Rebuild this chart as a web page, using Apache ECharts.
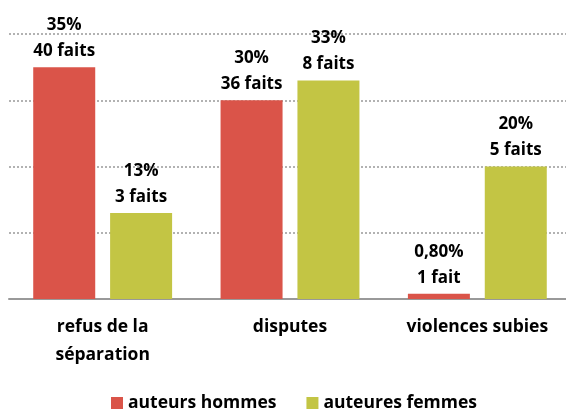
<!DOCTYPE html>
<html>
<head>
<meta charset="utf-8">
<script src="https://cdn.jsdelivr.net/npm/echarts@6/dist/echarts.min.js"></script>
<style>
html,body{margin:0;padding:0;background:#fff;overflow:hidden;}
#chart{width:572px;height:412px;}
</style>
</head>
<body>
<div id="chart"></div>
<script>
// données
var categories = ['refus de la\nséparation', 'disputes', 'violences subies'];
var hommes_pct = [35, 30, 0.8];
var hommes_txt = ['35%', '30%', '0,80%'];
var hommes_faits = ['40 faits', '36 faits', '1 fait'];
var femmes_pct = [13, 33, 20];
var femmes_txt = ['13%', '33%', '20%'];
var femmes_faits = ['3 faits', '8 faits', '5 faits'];
var y_ticks = [0, 10, 20, 30, 40];

var font = '"Open Sans", sans-serif';

function make_label(txt, faits){
	return {
		show: true,
		position: 'top',
		distance: 3,
		color: '#000',
		fontWeight: 'bold',
		fontSize: 17,
		fontFamily: font,
		lineHeight: 26,
		formatter: function(p){
			return txt[p.dataIndex] + '\n' + faits[p.dataIndex];
		}
	};
}

var myChart = echarts.init(document.getElementById('chart'));
var option = {
	animation: false,
	grid: {
		left: 9,
		right: 1,
		top: 34,
		bottom: 113,
		containLabel: false
	},
	legend: {
		bottom: -5,
		left: 106,
		itemWidth: 12,
		itemHeight: 12,
		itemGap: 30,
		icon: 'rect',
		textStyle: {
			color: '#000',
			fontWeight: 'bold',
			fontSize: 17.5,
			fontFamily: font
		},
		data: ['auteurs hommes', 'auteures femmes']
	},
	xAxis: {
		type: 'category',
		data: categories,
		axisTick: {show: false},
		axisLine: {lineStyle: {color: '#999', width: 2}},
		axisLabel: {
			color: '#000',
			fontWeight: 'bold',
			fontSize: 17.5,
			fontFamily: font,
			lineHeight: 28,
			margin: 14
		}
	},
	yAxis: {
		type: 'value',
		min: y_ticks[0],
		max: y_ticks[y_ticks.length - 1],
		interval: 10,
		axisLabel: {show: false},
		axisLine: {show: false},
		axisTick: {show: false},
		splitLine: {lineStyle: {color: '#999', type: [2, 2], width: 1.5}}
	},
	series: [
		{
			name: 'auteurs hommes',
			type: 'bar',
			data: hommes_pct,
			barWidth: 62,
			barGap: '24%',
			itemStyle: {color: '#DA5449'},
			label: make_label(hommes_txt, hommes_faits)
		},
		{
			name: 'auteures femmes',
			type: 'bar',
			data: femmes_pct,
			barWidth: 62,
			itemStyle: {color: '#C3C544'},
			label: make_label(femmes_txt, femmes_faits)
		}
	]
};
myChart.setOption(option);
</script>
</body>
</html>
